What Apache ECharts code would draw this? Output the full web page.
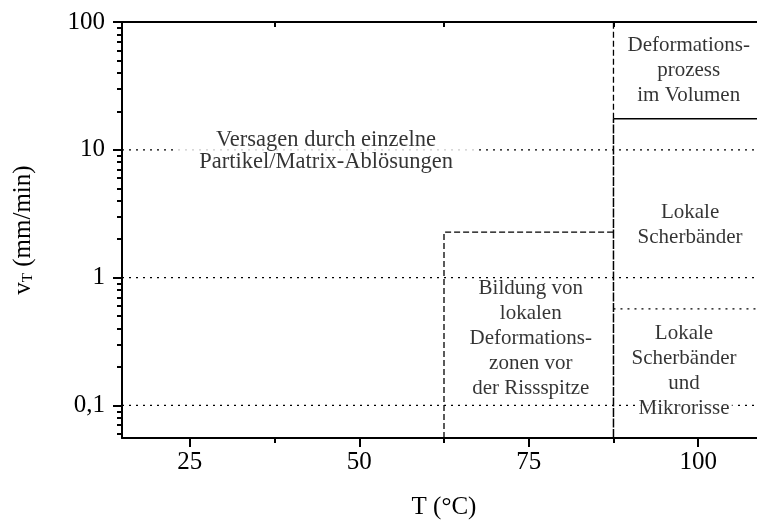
<!DOCTYPE html>
<html>
<head>
<meta charset="utf-8">
<script src="https://cdn.jsdelivr.net/npm/echarts@6/dist/echarts.min.js"></script>
<style>
html,body{margin:0;padding:0;background:#fff;}
#chart{width:757px;height:525px;}
</style>
</head>
<body>
<div id="chart"></div>
<script>
// ---- data ----
var xRange = [15, 110];
var yRange = [0.0556, 100];
var xMajorTicks = [25, 50, 75, 100];
var xMinorTicks = [37.5, 62.5, 87.5];
var yMajorTicks = [0.1, 1, 10, 100];
var yMajorLabels = ['0,1', '1', '10', '100'];
var yMinorTicks = [0.06, 0.07, 0.08, 0.09, 0.2, 0.3, 0.4, 0.5, 0.6, 0.7, 0.8, 0.9,
                   2, 3, 4, 5, 6, 7, 8, 9, 20, 30, 40, 50, 60, 70, 80, 90];
// dotted horizontal guide lines (full width)
var guideLevels = [10, 1, 0.1];
// region boundaries
var boundaryT1 = 62.5;      // °C
var boundaryT2 = 87.5;      // °C
var boundaryV1 = 2.27;      // mm/min (top of local deformation zone region)
var boundaryVSolid = 17.5;  // mm/min (volume deformation above)
var boundaryVDotted = 0.57; // mm/min (shear bands / micro cracks)
// annotations: [T, v, text]
var labelsPlain = [
  [98.6, 42, 'Deformations-\nprozess\nim Volumen'],
  [98.8, 2.6, 'Lokale\nScherbänder'],
  [75.3, 0.337, 'Bildung von\nlokalen\nDeformations-\nzonen vor\nder Rissspitze'],
  [97.9, 0.232, 'Lokale\nScherbänder\nund']
];
var labelMain = [45.1, 9.8, 'Versagen durch einzelne\nPartikel/Matrix-Ablösungen'];
var labelCracks = [97.9, 0.094, 'Mikrorisse'];

var FONT = 'Liberation Serif';
var chart = echarts.init(document.getElementById('chart'));

function lineSeries(points, type, width) {
  return {
    type: 'line', xAxisIndex: 0, yAxisIndex: 0, data: points,
    symbol: 'none', silent: true, z: 3,
    lineStyle: { color: '#000', width: width, type: type }
  };
}

var series = [];
guideLevels.forEach(function (v) {
  series.push(lineSeries([[xRange[0], v], [xRange[1], v]], [2, 5], 1.3));
});
series.push(lineSeries([[boundaryT2, boundaryVDotted], [xRange[1], boundaryVDotted]], [2, 5], 1.3));
series.push(lineSeries([[boundaryT2, boundaryVSolid], [xRange[1], boundaryVSolid]], 'solid', 1.5));
series.push(lineSeries([[boundaryT1, yRange[0]], [boundaryT1, boundaryV1], [boundaryT2, boundaryV1]], [6, 3], 1.3));
series.push(lineSeries([[boundaryT2, boundaryVSolid], [boundaryT2, yRange[1]]], [6, 3], 1.3));
series.push(lineSeries([[boundaryT2, yRange[0]], [boundaryT2, boundaryVSolid]], [9, 1.5], 1.5));

function labelSeries(items, labelStyle) {
  var lbl = {
    show: true, position: 'inside', formatter: function (p) { return p.name; },
    color: '#000', fontFamily: FONT, fontSize: 21, lineHeight: 25, align: 'center'
  };
  for (var k in labelStyle) lbl[k] = labelStyle[k];
  return {
    type: 'scatter', xAxisIndex: 0, yAxisIndex: 0, z: 10, silent: true,
    symbolSize: 1, itemStyle: { color: 'rgba(0,0,0,0)' },
    data: items.map(function (d) { return { value: [d[0], d[1]], name: d[2] }; }),
    label: lbl
  };
}
series.push(labelSeries(labelsPlain, {}));
series.push(labelSeries([labelMain], { fontSize: 22.5, lineHeight: 22, backgroundColor: '#fff', padding: [0, 22] }));
series.push(labelSeries([labelCracks], { backgroundColor: '#fff', padding: [0, 3] }));

var axisLineStyle = { show: true, lineStyle: { color: '#000', width: 2 } };

var option = {
  animation: false,
  backgroundColor: '#fff',
  grid: { left: 122, top: 22, width: 644, height: 416, containLabel: false, outerBoundsMode: 'none' },
  xAxis: [
    {
      type: 'value', position: 'bottom', min: xRange[0], max: xRange[1],
      axisLine: axisLineStyle, splitLine: { show: false },
      axisTick: { show: true, customValues: xMajorTicks, length: 9, lineStyle: { color: '#000', width: 2 } },
      axisLabel: { show: true, customValues: xMajorTicks, margin: 12, color: '#000', fontFamily: FONT, fontSize: 25 },
      name: 'T (°C)', nameLocation: 'middle', nameGap: 57,
      nameTextStyle: { color: '#000', fontFamily: FONT, fontSize: 25 }
    },
    {
      type: 'value', position: 'bottom', min: xRange[0], max: xRange[1],
      axisLine: { show: false }, splitLine: { show: false }, axisLabel: { show: false },
      axisTick: { show: true, customValues: xMinorTicks, length: 5, lineStyle: { color: '#000', width: 2 } }
    },
    {
      type: 'value', position: 'top', min: xRange[0], max: xRange[1],
      axisLine: axisLineStyle, splitLine: { show: false }, axisLabel: { show: false },
      axisTick: { show: true, inside: true, customValues: xMinorTicks, length: 5, lineStyle: { color: '#000', width: 2 } }
    }
  ],
  yAxis: [
    {
      type: 'log', position: 'left', min: yRange[0], max: yRange[1],
      axisLine: axisLineStyle, splitLine: { show: false },
      axisTick: { show: true, customValues: yMajorTicks, length: 9, lineStyle: { color: '#000', width: 2 } },
      axisLabel: {
        show: true, customValues: yMajorTicks, margin: 17, color: '#000', fontFamily: FONT, fontSize: 25,
        formatter: function (v) {
          var best = 0, bd = Infinity;
          yMajorTicks.forEach(function (t, i) {
            var d = Math.abs(Math.log10(v) - Math.log10(t));
            if (d < bd) { bd = d; best = i; }
          });
          return yMajorLabels[best];
        }
      },
      name: '{a|v}{b|T}{a| (mm/min)}', nameLocation: 'middle', nameRotate: 90, nameGap: 86,
      nameTextStyle: {
        color: '#000', fontFamily: FONT, fontSize: 25,
        rich: {
          a: { fontFamily: FONT, fontSize: 25, color: '#000' },
          b: { fontFamily: FONT, fontSize: 15, color: '#000', verticalAlign: 'bottom', padding: [8, 0, 0, 0] }
        }
      }
    },
    {
      type: 'log', position: 'left', min: yRange[0], max: yRange[1],
      axisLine: { show: false }, splitLine: { show: false }, axisLabel: { show: false },
      axisTick: { show: true, customValues: yMinorTicks, length: 5, lineStyle: { color: '#000', width: 2 } }
    }
  ],
  series: series
};
chart.setOption(option);
</script>
</body>
</html>
